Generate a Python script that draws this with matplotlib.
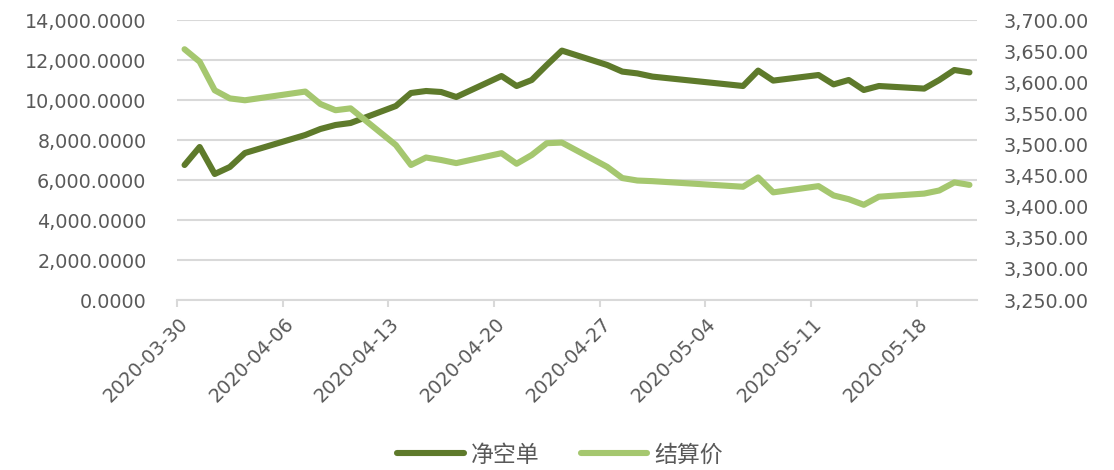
import matplotlib
matplotlib.use("Agg")
import matplotlib.pyplot as plt
import matplotlib.dates as mdates
import matplotlib.transforms as mtransforms
from matplotlib.ticker import FuncFormatter, FixedLocator
import pandas as pd
import numpy as np

plt.rcParams['font.family'] = ['DejaVu Sans', 'Noto Sans CJK SC']

dates = ["2020-03-30", "2020-03-31", "2020-04-01", "2020-04-02", "2020-04-03",
         "2020-04-07", "2020-04-08", "2020-04-09", "2020-04-10",
         "2020-04-13", "2020-04-14", "2020-04-15", "2020-04-16", "2020-04-17",
         "2020-04-20", "2020-04-21", "2020-04-22", "2020-04-23", "2020-04-24",
         "2020-04-27", "2020-04-28", "2020-04-29", "2020-04-30",
         "2020-05-06", "2020-05-07", "2020-05-08",
         "2020-05-11", "2020-05-12", "2020-05-13", "2020-05-14", "2020-05-15",
         "2020-05-18", "2020-05-19", "2020-05-20", "2020-05-21"]

net_short = [6750, 7650, 6300, 6650, 7350,
             8250, 8550, 8750, 8850,
             9700, 10350, 10450, 10400, 10150,
             11200, 10700, 11000, 11750, 12470,
             11750, 11420, 11330, 11170,
             10700, 11470, 10970,
             11250, 10780, 11000, 10500, 10700,
             10570, 11000, 11500, 11380]

settle = [3653, 3633, 3587, 3574, 3571,
          3585, 3565, 3555, 3558,
          3499, 3467, 3479, 3475, 3470,
          3486, 3469, 3483, 3502, 3503,
          3464, 3446, 3442, 3441,
          3432, 3447, 3423,
          3433, 3418, 3412, 3403, 3416,
          3421, 3426, 3439, 3435]

series_names = ["净空单", "结算价"]
xtick_dates = ["2020-03-30", "2020-04-06", "2020-04-13", "2020-04-20",
               "2020-04-27", "2020-05-04", "2020-05-11", "2020-05-18"]
left_ticks = list(range(0, 14001, 2000))
right_ticks = list(range(3250, 3701, 50))

dark = '#5E7A2B'
light = '#A5C76F'
txt = '#595959'
grid = '#D9D9D9'

dt = pd.to_datetime(dates) + pd.Timedelta(hours=12)
W, H = 1114, 470
fig = plt.figure(figsize=(W / 100, H / 100), dpi=100)
ax = fig.add_axes([177 / W, 1 - 300 / H, 800 / W, 280 / H])
ax2 = ax.twinx()

l1, = ax.plot(dt, net_short, color=dark, lw=4.4, solid_capstyle='round', solid_joinstyle='round', label=series_names[0], zorder=3)
l2, = ax2.plot(dt, settle, color=light, lw=4.4, solid_capstyle='round', solid_joinstyle='round', label=series_names[1], zorder=3)

ax.set_xlim(pd.Timestamp("2020-03-30"), pd.Timestamp("2020-05-22"))
ax.set_ylim(0, 14000)
ax2.set_ylim(3250, 3700)

ax.yaxis.set_major_locator(FixedLocator(left_ticks))
ax2.yaxis.set_major_locator(FixedLocator(right_ticks))
ax.yaxis.set_major_formatter(FuncFormatter(lambda v, p: f"{v:,.4f}"))
ax2.yaxis.set_major_formatter(FuncFormatter(lambda v, p: f"{v:,.2f}"))

xt = [mdates.date2num(pd.Timestamp(d)) for d in xtick_dates]
ax.set_xticks(xt)
ax.set_xticklabels(xtick_dates)

for a in (ax, ax2):
    for s in a.spines.values():
        s.set_visible(False)
ax.spines['bottom'].set_visible(True)
ax.spines['bottom'].set_color(grid)
ax.spines['bottom'].set_linewidth(1.5)

ax.grid(axis='y', color=grid, lw=1.5)
ax.set_axisbelow(True)
ax.tick_params(axis='y', length=0, pad=22, labelsize=13.8, labelcolor=txt)
ax2.tick_params(axis='y', length=0, pad=19, labelsize=13.8, labelcolor=txt)
ax.tick_params(axis='x', length=5, width=1.5, color=grid, direction='out', pad=10,
               labelsize=13.8, labelcolor=txt)

offset = mtransforms.ScaledTranslation(8 / 100, 0, fig.dpi_scale_trans)
for lab in ax.get_xticklabels():
    lab.set_rotation(45)
    lab.set_ha('right')
    lab.set_va('center')
    lab.set_rotation_mode('anchor')
    lab.set_transform(lab.get_transform() + offset)

leg = fig.legend(handles=[l1, l2], labels=series_names, loc='center',
                 bbox_to_anchor=(560 / W, 1 - 455 / H), ncol=2, frameon=False,
                 prop={'family': ['Noto Sans CJK SC', 'DejaVu Sans'], 'size': 16.5},
                 handlelength=2.9, handletextpad=0.3, columnspacing=1.8, labelcolor=txt)
for h in leg.legend_handles:
    h.set_linewidth(4.4)

fig.savefig("out.png", dpi=100)
